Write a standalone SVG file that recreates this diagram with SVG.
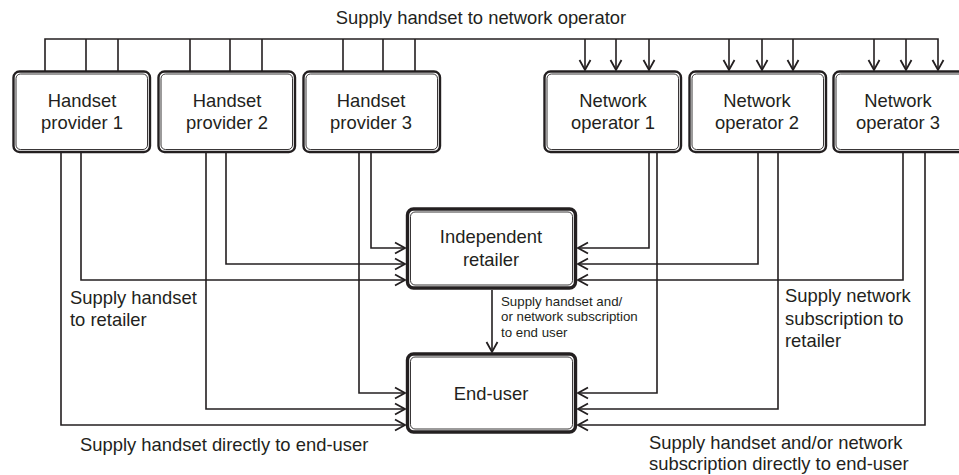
<svg xmlns="http://www.w3.org/2000/svg" width="959" height="475" viewBox="0 0 959 475">
  <style>
    .box-outer { fill: #ffffff; stroke: #231f20; stroke-width: 2.4; }
    .box-inner { fill: none; stroke: #231f20; stroke-width: 0.9; }
    .hub-outer { fill: #ffffff; stroke: #231f20; stroke-width: 3.4; }
    .conn { fill: none; stroke: #231f20; stroke-width: 1.6; }
    text { font-family: "Liberation Sans", Arial, Helvetica, sans-serif; fill: #231f20; }
    .label { font-size: 18.4px; }
    .small { font-size: 13.3px; }
    .center { text-anchor: middle; }
  </style>
  <defs>
    <marker id="chev" markerUnits="userSpaceOnUse" markerWidth="14" markerHeight="14" viewBox="-12 -7 14 14" refX="0" refY="0" orient="auto">
      <path d="M-10,-5.5 L0,0 L-10,5.5" fill="none" stroke="#231f20" stroke-width="1.8"/>
    </marker>
  </defs>

  <rect width="959" height="475" fill="#ffffff"/>

  <!-- connectors -->
  <g id="connectors" class="conn">
    <!-- bus from handset providers to network operators -->
    <path d="M45,72 V39 H938 V70" marker-end="url(#chev)"/>
    <path d="M86,72 V39 M118,72 V39 M190,72 V39 M230,72 V39 M262,72 V39 M343,72 V39 M383,72 V39 M415,72 V39"/>
    <path d="M585,39 V70" marker-end="url(#chev)"/>
    <path d="M616,39 V70" marker-end="url(#chev)"/>
    <path d="M649,39 V70" marker-end="url(#chev)"/>
    <path d="M729,39 V70" marker-end="url(#chev)"/>
    <path d="M762,39 V70" marker-end="url(#chev)"/>
    <path d="M793,39 V70" marker-end="url(#chev)"/>
    <path d="M874,39 V70" marker-end="url(#chev)"/>
    <path d="M906,39 V70" marker-end="url(#chev)"/>

    <!-- handset providers to retailer -->
    <path d="M81,152 V280 H405" marker-end="url(#chev)"/>
    <path d="M226,152 V264 H405" marker-end="url(#chev)"/>
    <path d="M371,152 V248 H405" marker-end="url(#chev)"/>
    <!-- handset providers to end-user -->
    <path d="M61,152 V425 H405" marker-end="url(#chev)"/>
    <path d="M206,152 V409 H405" marker-end="url(#chev)"/>
    <path d="M359,152 V393 H405" marker-end="url(#chev)"/>

    <!-- network operators to retailer -->
    <path d="M649,152 V248 H578" marker-end="url(#chev)"/>
    <path d="M758,152 V264 H578" marker-end="url(#chev)"/>
    <path d="M903,152 V280 H578" marker-end="url(#chev)"/>
    <!-- network operators to end-user -->
    <path d="M657,152 V393 H578" marker-end="url(#chev)"/>
    <path d="M778,152 V409 H578" marker-end="url(#chev)"/>
    <path d="M925,152 V425 H578" marker-end="url(#chev)"/>

    <!-- retailer to end-user -->
    <path d="M492,290 V352" marker-end="url(#chev)"/>
  </g>

  <!-- handset providers -->
  <g id="handset-provider-1">
    <rect class="box-outer" x="13.5" y="71.5" width="136.5" height="80.5" rx="6"/>
    <rect class="box-inner" x="16" y="74" width="131.5" height="75.5" rx="4.5"/>
    <text class="label center" x="82" y="106.5">Handset</text>
    <text class="label center" x="82" y="128.5">provider 1</text>
  </g>
  <g id="handset-provider-2">
    <rect class="box-outer" x="158.5" y="71.5" width="136.5" height="80.5" rx="6"/>
    <rect class="box-inner" x="161" y="74" width="131.5" height="75.5" rx="4.5"/>
    <text class="label center" x="227" y="106.5">Handset</text>
    <text class="label center" x="227" y="128.5">provider 2</text>
  </g>
  <g id="handset-provider-3">
    <rect class="box-outer" x="303.5" y="71.5" width="136.5" height="80.5" rx="6"/>
    <rect class="box-inner" x="306" y="74" width="131.5" height="75.5" rx="4.5"/>
    <text class="label center" x="371" y="106.5">Handset</text>
    <text class="label center" x="371" y="128.5">provider 3</text>
  </g>

  <!-- network operators -->
  <g id="network-operator-1">
    <rect class="box-outer" x="544.5" y="71.5" width="136.5" height="80.5" rx="6"/>
    <rect class="box-inner" x="547" y="74" width="131.5" height="75.5" rx="4.5"/>
    <text class="label center" x="613" y="107">Network</text>
    <text class="label center" x="613" y="129">operator 1</text>
  </g>
  <g id="network-operator-2">
    <rect class="box-outer" x="689.5" y="71.5" width="136.5" height="80.5" rx="6"/>
    <rect class="box-inner" x="692" y="74" width="131.5" height="75.5" rx="4.5"/>
    <text class="label center" x="757" y="107">Network</text>
    <text class="label center" x="757" y="129">operator 2</text>
  </g>
  <g id="network-operator-3">
    <rect class="box-outer" x="833.5" y="71.5" width="136.5" height="80.5" rx="6"/>
    <rect class="box-inner" x="836" y="74" width="131.5" height="75.5" rx="4.5"/>
    <text class="label center" x="898" y="107">Network</text>
    <text class="label center" x="898" y="129">operator 3</text>
  </g>

  <!-- retailer and end-user -->
  <g id="independent-retailer">
    <rect class="hub-outer" x="407.5" y="209" width="168" height="79" rx="6"/>
    <rect class="box-inner" x="410.5" y="212" width="162" height="73" rx="4.5"/>
    <text class="label center" x="491" y="243">Independent</text>
    <text class="label center" x="491" y="266">retailer</text>
  </g>
  <g id="end-user">
    <rect class="hub-outer" x="407.5" y="354" width="168" height="78" rx="6"/>
    <rect class="box-inner" x="410.5" y="357" width="162" height="72" rx="4.5"/>
    <text class="label center" x="491" y="400">End-user</text>
  </g>

  <!-- flow labels -->
  <g id="labels">
    <text class="label center" x="481" y="23.5">Supply handset to network operator</text>
    <text class="label" x="70" y="304">Supply handset</text>
    <text class="label" x="70" y="326">to retailer</text>
    <text class="small" x="501" y="305.5">Supply handset and/</text>
    <text class="small" x="501" y="321">or network subscription</text>
    <text class="small" x="501" y="336.5">to end user</text>
    <text class="label" x="785" y="302">Supply network</text>
    <text class="label" x="785" y="324.5">subscription to</text>
    <text class="label" x="785" y="346.5">retailer</text>
    <text class="label" x="80" y="450.5">Supply handset directly to end-user</text>
    <text class="label" x="649" y="449">Supply handset and/or network</text>
    <text class="label" x="649" y="470">subscription directly to end-user</text>
  </g>
</svg>
